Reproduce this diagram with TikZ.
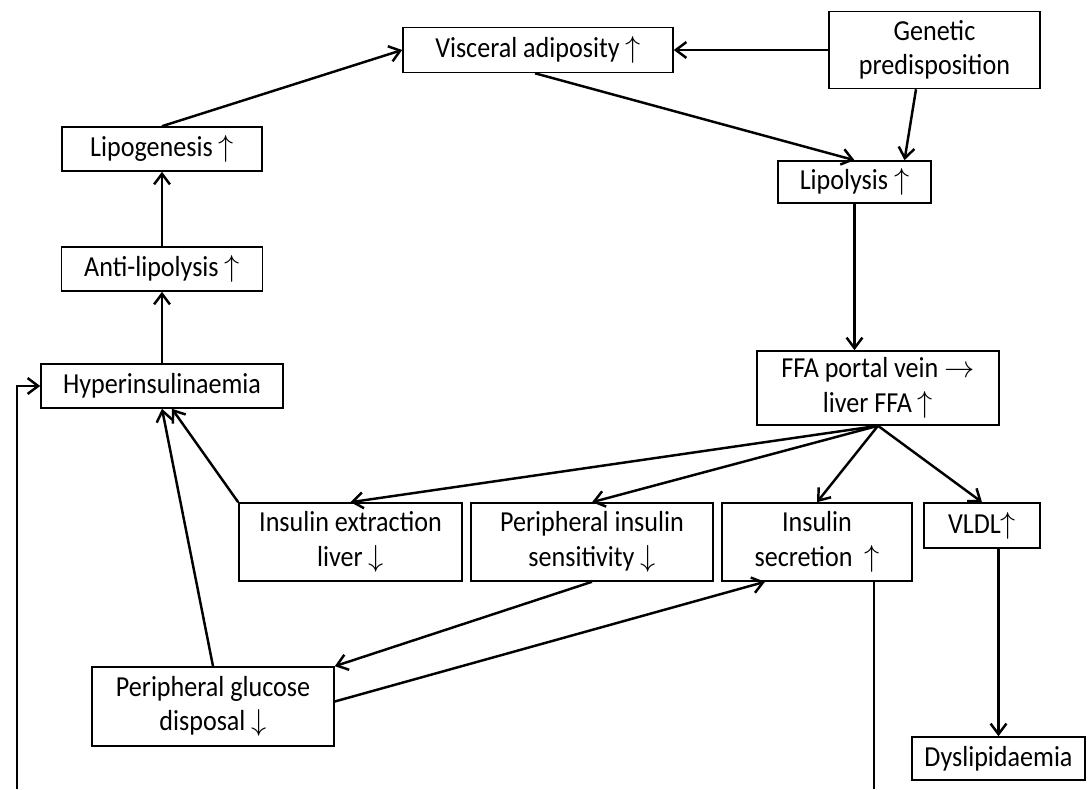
\documentclass[tikz,border=0pt]{standalone}
\usepackage{fontspec}
\setmainfont[FakeStretch=0.9]{Carlito}
\usepackage{tikz}
\usetikzlibrary{calc,positioning,arrows.meta}

\newcommand{\arup}{\ensuremath{\uparrow}}
\newcommand{\ardown}{\ensuremath{\downarrow}}
\newcommand{\arright}{\ensuremath{\rightarrow}}

\begin{document}
\begin{tikzpicture}[box/.style={draw,line width=0.9pt,align=center,inner sep=2pt,font=\fontsize{16.5}{19.5}\selectfont},
  link/.style={->,line width=1.4pt,>={Straight Barb[length=6pt,width=9pt]}}]
              \useasboundingbox (0,0) rectangle (21.84,15.78);
              \node[box,minimum width=5.4cm,minimum height=0.9cm] (visceral) at (10.76,14.78) {Visceral adiposity \arup};
              \node[box,minimum width=4.22cm,minimum height=1.54cm] (genetic) at (18.69,14.78) {Genetic\\predisposition};
              \node[box,minimum width=4cm,minimum height=0.88cm] (lipogenesis) at (3.24,12.8) {Lipogenesis \arup};
              \node[box,minimum width=3.06cm,minimum height=0.84cm] (lipolysis) at (17.09,12.14) {Lipolysis \arup};
              \node[box,minimum width=4.02cm,minimum height=0.88cm] (antilipolysis) at (3.24,10.4) {Anti-lipolysis \arup};
              \node[box,minimum width=4.84cm,minimum height=0.88cm] (hyper) at (3.24,8.06) {Hyperinsulinaemia};
              \node[box,minimum width=4.84cm,minimum height=1.48cm] (ffa) at (17.56,8.02) {FFA portal vein \arright\\liver FFA \arup};

              \node[box,minimum width=4.46cm,minimum height=1.56cm] (extraction) at (7.01,4.94) {Insulin extraction\\liver \ardown};
              \node[box,minimum width=4.84cm,minimum height=1.56cm] (sensitivity) at (11.84,4.94) {Peripheral insulin\\sensitivity \ardown};
              \node[box,minimum width=3.8cm,minimum height=1.56cm] (secretion) at (16.34,4.94) {Insulin\\secretion \ \arup};
              \node[box,minimum width=2.32cm,minimum height=0.9cm] (vldl) at (19.64,5.27) {VLDL\arup};
              \node[box,minimum width=4.84cm,minimum height=1.58cm] (glucose) at (4.26,1.65) {Peripheral glucose\\disposal \ardown};
              \node[box,minimum width=3.46cm,minimum height=0.86cm] (dyslip) at (19.97,0.61) {Dyslipidaemia};

              \draw[link] (genetic.west) -- (visceral.east);
              \draw[link] ([xshift=-0.37cm]genetic.south) -- ([xshift=1cm]lipolysis.north);
              \draw[link] ([xshift=-0.06cm]visceral.south) -- (lipolysis.north);
              \draw[link] (lipogenesis.north) -- (visceral.west);
              \draw[link] (antilipolysis.north) -- (lipogenesis.south);
              \draw[link] (hyper.north) -- (antilipolysis.south);
              \draw[link] (lipolysis.south) -- (lipolysis.south |- ffa.north);

              \draw[link] (ffa.south) -- (extraction.north);
              \draw[link] (ffa.south) -- (sensitivity.north);
              \draw[link] (ffa.south) -- (secretion.north);
              \draw[link] (ffa.south) -- (vldl.north);
              \draw[link] (extraction.north west) -- ([xshift=0.2cm]hyper.south);
              \draw[link] (glucose.north) -- (hyper.south);
              \draw[link] (sensitivity.south) -- (glucose.north east);
              \draw[link] ([yshift=0.1cm]glucose.east) -- ([xshift=-1.04cm]secretion.south);
              \draw[link] (dyslip.north |- vldl.south) -- (dyslip.north);

              % feedback loop, closed below the frame
              \coordinate (tap) at ([xshift=1.14cm]secretion.south);
              \coordinate (loopR) at (tap |- 0,0);
              \coordinate (loopL) at (0.34,0);
              \draw[line width=1.4pt] (tap) -- (loopR);
              \draw[link] (loopL) |- (hyper.west);
            \end{tikzpicture}
\end{document}
